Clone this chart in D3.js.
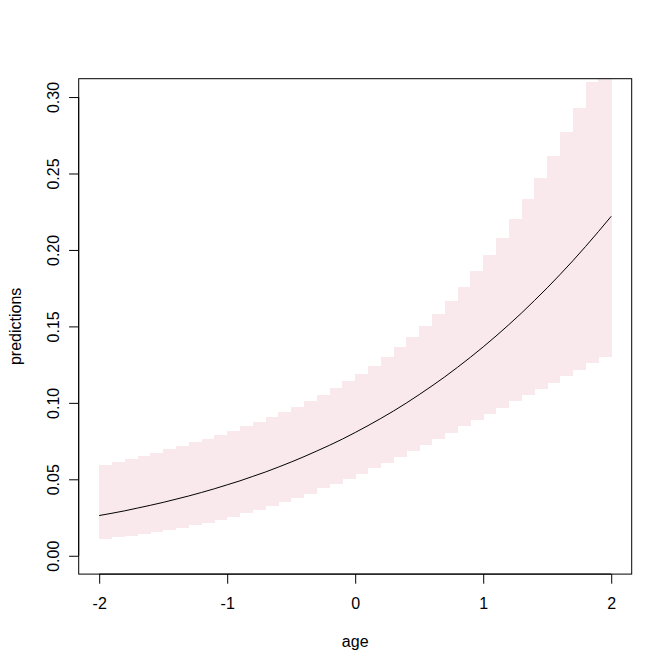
<!DOCTYPE html>
<html>
<head>
<meta charset="utf-8">
<script src="https://cdn.jsdelivr.net/npm/d3@7"></script>
<style>
  html, body { margin: 0; padding: 0; background: #fff; }
  svg { display: block; font-family: "Liberation Sans", Arial, Helvetica, sans-serif; }
</style>
</head>
<body>
<div id="chart"></div>
<script>
// age grid (band edges and curve points)
const ageGrid = [-2.0, -1.9, -1.8, -1.7, -1.6, -1.5, -1.4, -1.3, -1.2, -1.1,
  -1.0, -0.9, -0.8, -0.7, -0.6, -0.5, -0.4, -0.3, -0.2, -0.1,
  0.0, 0.1, 0.2, 0.3, 0.4, 0.5, 0.6, 0.7, 0.8, 0.9,
  1.0, 1.1, 1.2, 1.3, 1.4, 1.5, 1.6, 1.7, 1.8, 1.9, 2.0];

// predicted probability at each age
const predictions = [0.0263, 0.0278, 0.0294, 0.0312, 0.0330, 0.0349, 0.0370, 0.0391, 0.0414, 0.0438,
  0.0464, 0.0490, 0.0519, 0.0548, 0.0580, 0.0613, 0.0648, 0.0685, 0.0723, 0.0763,
  0.0806, 0.0851, 0.0898, 0.0947, 0.0999, 0.1054, 0.1111, 0.1170, 0.1233, 0.1298,
  0.1366, 0.1437, 0.1511, 0.1588, 0.1669, 0.1752, 0.1839, 0.1929, 0.2023, 0.2120, 0.2220];

// stepped confidence band, one value per 0.1 interval
const bandUpper = [0.0594, 0.0613, 0.0633, 0.0652, 0.0672, 0.0698, 0.0718, 0.0744, 0.0764, 0.0790,
  0.0816, 0.0849, 0.0875, 0.0908, 0.0940, 0.0973, 0.1012, 0.1051, 0.1097, 0.1143,
  0.1189, 0.1241, 0.1300, 0.1366, 0.1431, 0.1503, 0.1581, 0.1666, 0.1758, 0.1862,
  0.1967, 0.2078, 0.2202, 0.2333, 0.2471, 0.2615, 0.2772, 0.2929, 0.3098, 0.3280];
const bandLower = [0.0110, 0.0123, 0.0129, 0.0142, 0.0155, 0.0170, 0.0184, 0.0199, 0.0216, 0.0236,
  0.0255, 0.0278, 0.0299, 0.0325, 0.0352, 0.0378, 0.0407, 0.0440, 0.0469, 0.0502,
  0.0535, 0.0574, 0.0606, 0.0646, 0.0685, 0.0724, 0.0764, 0.0805, 0.0849, 0.0888,
  0.0927, 0.0966, 0.1012, 0.1051, 0.1091, 0.1130, 0.1176, 0.1215, 0.1261, 0.1300];

const xTicks = [-2, -1, 0, 1, 2];
const yTicks = [0, 0.05, 0.10, 0.15, 0.20, 0.25, 0.30];
const yTickLabels = ["0.00", "0.05", "0.10", "0.15", "0.20", "0.25", "0.30"];

const width = 672, height = 672;
const lineH = 19.2;
const plot = { left: 78.7, right: 631.7, top: 78.7, bottom: 574.1 };

const svg = d3.select("#chart").append("svg")
  .attr("width", width)
  .attr("height", height);

// R-style axis extension of 4%
const xScale = d3.scaleLinear().domain([-2.16, 2.16]).range([plot.left, plot.right]);
const yScale = d3.scaleLinear().domain([-0.012, 0.312]).range([plot.bottom, plot.top]);

svg.append("clipPath").attr("id", "plot-clip")
  .append("rect")
  .attr("x", plot.left).attr("y", plot.top)
  .attr("width", plot.right - plot.left)
  .attr("height", plot.bottom - plot.top);

const bandData = bandUpper.map((u, i) => ({
  x0: ageGrid[i], x1: ageGrid[i + 1], lo: bandLower[i], hi: u
}));

svg.append("g")
  .attr("clip-path", "url(#plot-clip)")
  .selectAll("rect")
  .data(bandData)
  .join("rect")
  .attr("x", (d) => xScale(d.x0))
  .attr("width", (d) => xScale(d.x1) - xScale(d.x0) + 0.3)
  .attr("y", (d) => yScale(d.hi))
  .attr("height", (d) => yScale(d.lo) - yScale(d.hi))
  .attr("fill", "#f9e9ec")
  .attr("shape-rendering", "crispEdges");

const line = d3.line()
  .x((d, i) => xScale(ageGrid[i]))
  .y((d) => yScale(d));

svg.append("path")
  .datum(predictions)
  .attr("d", line)
  .attr("fill", "none")
  .attr("stroke", "#000")
  .attr("stroke-width", 1);

// box
svg.append("rect")
  .attr("x", plot.left).attr("y", plot.top)
  .attr("width", plot.right - plot.left)
  .attr("height", plot.bottom - plot.top)
  .attr("fill", "none")
  .attr("stroke", "#000")
  .attr("stroke-width", 1);

// x axis
const xAxisG = svg.append("g")
  .attr("transform", `translate(0,${plot.bottom})`)
  .call(d3.axisBottom(xScale)
    .tickValues(xTicks)
    .tickSize(lineH / 2)
    .tickSizeOuter(0)
    .tickPadding(13.6)
    .tickFormat(d3.format("d")));
xAxisG.select(".domain").remove();
xAxisG.append("line")
  .attr("x1", xScale(xTicks[0])).attr("x2", xScale(xTicks[xTicks.length - 1]))
  .attr("stroke", "#000");
xAxisG.selectAll(".tick line").attr("stroke", "#000");
xAxisG.selectAll("text")
  .attr("font-size", 16)
  .attr("font-family", "Liberation Sans, Arial, sans-serif")
  .attr("fill", "#000")
  .text((d) => (d < 0 ? "-" + Math.abs(d) : d));

// y axis
const yAxisG = svg.append("g")
  .attr("transform", `translate(${plot.left},0)`)
  .call(d3.axisLeft(yScale)
    .tickValues(yTicks)
    .tickSize(lineH / 2)
    .tickSizeOuter(0)
    .tickFormat((d, i) => yTickLabels[i]));
yAxisG.select(".domain").remove();
yAxisG.append("line")
  .attr("y1", yScale(yTicks[0])).attr("y2", yScale(yTicks[yTicks.length - 1]))
  .attr("stroke", "#000");
yAxisG.selectAll(".tick line").attr("stroke", "#000");
yAxisG.selectAll("text")
  .attr("x", null)
  .attr("dy", null)
  .attr("text-anchor", "middle")
  .attr("transform", `translate(${-lineH},0) rotate(-90)`)
  .attr("font-size", 16)
  .attr("font-family", "Liberation Sans, Arial, sans-serif")
  .attr("fill", "#000");

// axis titles
svg.append("text")
  .attr("x", (plot.left + plot.right) / 2)
  .attr("y", plot.bottom + lineH * 3.8)
  .attr("text-anchor", "middle")
  .attr("font-size", 16)
  .text("age");

svg.append("text")
  .attr("transform", `translate(${plot.left - lineH * 3},${(plot.top + plot.bottom) / 2}) rotate(-90)`)
  .attr("text-anchor", "middle")
  .attr("font-size", 16)
  .text("predictions");
</script>
</body>
</html>
